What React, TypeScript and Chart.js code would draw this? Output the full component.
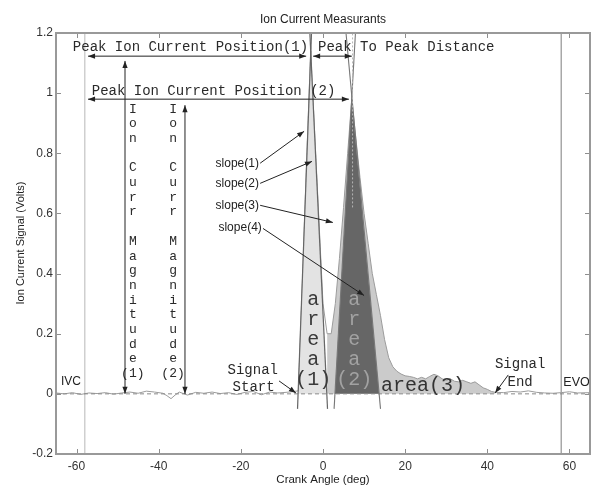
import React, { useEffect, useRef } from "react";
import { Chart, registerables } from "chart.js";
Chart.register(...registerables);

// ---------- data ----------
const xTicks = [-60, -40, -20, 0, 20, 40, 60];
const xTickLabels = ["-60", "-40", "-20", "0", "20", "40", "60"];
const yTicks = [-0.2, 0, 0.2, 0.4, 0.6, 0.8, 1, 1.2];
const yTickLabels = ["-0.2", "0", "0.2", "0.4", "0.6", "0.8", "1", "1.2"];

const signalX = [
  -65, -63, -61, -59, -57, -55, -53, -51, -49, -47, -45, -43, -41, -39, -38, -37, -36, -35, -33, -31,
  -29, -27, -25, -23, -21, -19, -17, -15, -13, -11, -9, -7, -6, -5, -4, -3, -2, -1, 0, 1,
  2, 3, 4, 5, 6, 7, 8, 9, 10, 11, 12, 13, 14, 15, 16, 17, 18, 19, 20, 21,
  22, 23, 24, 25, 26, 27, 28, 29, 30, 31, 32, 33, 34, 35, 36, 37, 38, 39, 40, 41,
  42, 44, 46, 48, 50, 52, 54, 56, 58, 60, 62, 65,
];
const signalY = [
  0.003, 0.0, 0.004, -0.002, 0.003, 0.001, 0.004, -0.001, 0.003, 0.006, 0.002, 0.009, 0.006, 0.002, -0.006, -0.016, -0.004, 0.006, -0.004, 0.005,
  0.002, 0.006, 0.001, 0.004, -0.002, 0.005, 0.008, -0.003, 0.006, 0.003, 0.005, 0.008, 0.01, 0.38, 0.77, 1.14, 0.86, 0.58, 0.3, 0.2,
  0.2, 0.3, 0.45, 0.62, 0.8, 0.98, 0.85, 0.72, 0.6, 0.5, 0.4, 0.33, 0.26, 0.18, 0.12, 0.09, 0.075, 0.066, 0.06, 0.058,
  0.055, 0.05, 0.055, 0.05, 0.058, 0.065, 0.06, 0.05, 0.045, 0.05, 0.042, 0.04, 0.045, 0.04, 0.035, 0.04, 0.03, 0.02, 0.015, 0.008,
  0.005, 0.004, 0.008, 0.006, 0.01, 0.005, 0.003, 0.002, 0.004, 0.007, 0.003, 0.004,
];

const area1X = [-5.97, -3, 0.93];
const area1Y = [0, 1.14, 0];
const area2X = [2.9, 7, 13.66];
const area2Y = [0, 0.98, 0];
const area3Range = [1, 42];

const slope1X = [-6.2, -2.8];
const slope1Y = [-0.05, 1.2];
const slope2X = [1.1, -3.2];
const slope2Y = [-0.05, 1.2];
const slope3X = [2.7, 7.9];
const slope3Y = [-0.05, 1.2];
const slope4X = [14.0, 5.6];
const slope4Y = [-0.05, 1.2];
const peak2GuideX = [7.2, 7.2];
const peak2GuideY = [0.62, 1.2];

const ivcX = -58;
const evoX = 58;

// ---------- annotations (data coordinates) ----------
const MONO = "'Liberation Mono', 'DejaVu Sans Mono', monospace";
const SANS = "'Liberation Sans', Arial, sans-serif";

const texts = [
  { text: "Peak Ion Current Position(1)", x: -60.9, y: 1.153, align: "left", font: `14px ${MONO}`, color: "#2a2a2a" },
  { text: "Peak To Peak Distance", x: -1.2, y: 1.153, align: "left", font: `14px ${MONO}`, color: "#2a2a2a" },
  { text: "Peak Ion Current Position (2)", x: -56.3, y: 1.007, align: "left", font: `14px ${MONO}`, color: "#2a2a2a" },
  { text: "slope(1)", x: -15.6, y: 0.767, align: "right", font: `12px ${SANS}`, color: "#222" },
  { text: "slope(2)", x: -15.6, y: 0.70, align: "right", font: `12px ${SANS}`, color: "#222" },
  { text: "slope(3)", x: -15.6, y: 0.627, align: "right", font: `12px ${SANS}`, color: "#222" },
  { text: "slope(4)", x: -14.9, y: 0.553, align: "right", font: `12px ${SANS}`, color: "#222" },
  { text: "area(3)", x: 14.1, y: 0.027, align: "left", font: `20px ${MONO}`, color: "#333" },
  { text: "Signal", x: -17.1, y: 0.08, align: "center", font: `14px ${MONO}`, color: "#2a2a2a" },
  { text: "Start", x: -16.9, y: 0.023, align: "center", font: `14px ${MONO}`, color: "#2a2a2a" },
  { text: "Signal", x: 48.0, y: 0.097, align: "center", font: `14px ${MONO}`, color: "#2a2a2a" },
  { text: "End", x: 48.0, y: 0.04, align: "center", font: `14px ${MONO}`, color: "#2a2a2a" },
  { text: "IVC", x: -63.8, y: 0.04, align: "left", font: `12px ${SANS}`, color: "#222" },
  { text: "EVO", x: 58.5, y: 0.037, align: "left", font: `12.5px ${SANS}`, color: "#222" },
];

const vtexts = [
  { lines: ["I", "o", "n", "", "C", "u", "r", "r", "", "M", "a", "g", "n", "i", "t", "u", "d", "e", "(1)"], x: -46.3, y: 0.947, step: 14.7, font: `13px ${MONO}`, color: "#2a2a2a" },
  { lines: ["I", "o", "n", "", "C", "u", "r", "r", "", "M", "a", "g", "n", "i", "t", "u", "d", "e", "(2)"], x: -36.5, y: 0.947, step: 14.7, font: `13px ${MONO}`, color: "#2a2a2a" },
  { lines: ["a", "r", "e", "a", "(1)"], x: -2.4, y: 0.313, step: 20, font: `20px ${MONO}`, color: "#3a3a3a" },
  { lines: ["a", "r", "e", "a", "(2)"], x: 7.6, y: 0.313, step: 20, font: `20px ${MONO}`, color: "#a2a2a2" },
];

// [x1, y1, x2, y2, headAtStart, headAtEnd]
const arrows = [
  [-57.2, 1.123, -4.1, 1.123, true, true],
  [-2.4, 1.123, 7.0, 1.123, true, true],
  [-57.2, 0.98, 6.3, 0.98, true, true],
  [-48.2, 0.0, -48.2, 1.107, true, true],
  [-33.6, 0.0, -33.6, 0.96, true, true],
  [-15.3, 0.767, -4.6, 0.873, false, true],
  [-15.3, 0.70, -2.7, 0.773, false, true],
  [-15.3, 0.627, 2.4, 0.57, false, true],
  [-14.6, 0.55, 10.0, 0.327, false, true],
  [-10.7, 0.043, -6.6, 0.003, false, true],
  [45.1, 0.063, 41.9, 0.003, false, true],
];

const pts = (xs: number[], ys: number[]) => xs.map((x, i) => ({ x, y: ys[i] }));

function drawHead(ctx: CanvasRenderingContext2D, fx: number, fy: number, tx: number, ty: number) {
  const ang = Math.atan2(ty - fy, tx - fx);
  const len = 7, half = 2.6;
  ctx.beginPath();
  ctx.moveTo(tx, ty);
  ctx.lineTo(tx - len * Math.cos(ang) + half * Math.sin(ang), ty - len * Math.sin(ang) - half * Math.cos(ang));
  ctx.lineTo(tx - len * Math.cos(ang) - half * Math.sin(ang), ty - len * Math.sin(ang) + half * Math.cos(ang));
  ctx.closePath();
  ctx.fill();
}

const annotPlugin = {
  id: "annot",
  afterDatasetsDraw(chart: any) {
    const ctx: CanvasRenderingContext2D = chart.ctx;
    const xs = chart.scales.x, ys = chart.scales.y;
    const X = (v: number) => xs.getPixelForValue(v);
    const Y = (v: number) => ys.getPixelForValue(v);
    ctx.save();
    ctx.textBaseline = "middle";
    for (const t of texts) {
      ctx.font = t.font;
      ctx.fillStyle = t.color;
      ctx.textAlign = t.align as CanvasTextAlign;
      ctx.fillText(t.text, X(t.x), Y(t.y));
    }
    for (const v of vtexts) {
      ctx.font = v.font;
      ctx.fillStyle = v.color;
      ctx.textAlign = "center";
      v.lines.forEach((l, i) => ctx.fillText(l, X(v.x), Y(v.y) + i * v.step));
    }
    ctx.strokeStyle = "#222";
    ctx.fillStyle = "#222";
    ctx.lineWidth = 1;
    for (const a of arrows) {
      const [x1, y1, x2, y2, hs, he] = a as [number, number, number, number, boolean, boolean];
      const p1x = X(x1), p1y = Y(y1), p2x = X(x2), p2y = Y(y2);
      ctx.beginPath();
      ctx.moveTo(p1x, p1y);
      ctx.lineTo(p2x, p2y);
      ctx.stroke();
      if (he) drawHead(ctx, p1x, p1y, p2x, p2y);
      if (hs) drawHead(ctx, p2x, p2y, p1x, p1y);
    }
    ctx.restore();
  },
  afterDraw(chart: any) {
    const ctx: CanvasRenderingContext2D = chart.ctx;
    const { left, right, top, bottom } = chart.chartArea;
    const xs = chart.scales.x, ys = chart.scales.y;
    ctx.save();
    ctx.strokeStyle = "#8e8e8e";
    ctx.lineWidth = 1;
    ctx.beginPath();
    for (const v of xTicks) {
      const px = Math.round(xs.getPixelForValue(v)) + 0.5;
      ctx.moveTo(px, bottom); ctx.lineTo(px, bottom - 5);
      ctx.moveTo(px, top); ctx.lineTo(px, top + 5);
    }
    for (const v of yTicks) {
      const py = Math.round(ys.getPixelForValue(v)) + 0.5;
      ctx.moveTo(left, py); ctx.lineTo(left + 5, py);
      ctx.moveTo(right, py); ctx.lineTo(right - 5, py);
    }
    ctx.stroke();
    ctx.strokeStyle = "#999";
    ctx.lineWidth = 2;
    ctx.strokeRect(left, top, right - left, bottom - top);

    ctx.fillStyle = "#222";
    ctx.textAlign = "center";
    ctx.textBaseline = "middle";
    ctx.font = `12px ${SANS}`;
    ctx.fillText("Ion Current Measurants", (left + right) / 2, 20);
    ctx.font = `11.5px ${SANS}`;
    ctx.fillText("Crank Angle (deg)", (left + right) / 2, 480);
    ctx.translate(21, 243);
    ctx.rotate(-Math.PI / 2);
    ctx.font = `11px ${SANS}`;
    ctx.fillText("Ion Current Signal (Volts)", 0, 0);
    ctx.restore();
  },
};

export default function App() {
  const ref = useRef<HTMLCanvasElement | null>(null);
  useEffect(() => {
    if (!ref.current) return;
    const area3 = signalX
      .map((x, i) => ({ x, y: signalY[i] }))
      .filter((p) => p.x >= area3Range[0] && p.x <= area3Range[1]);
    const common = { pointRadius: 0, tension: 0, showLine: true };
    const chart = new Chart(ref.current, {
      type: "line",
      data: {
        datasets: [
          { ...common, data: pts(peak2GuideX, peak2GuideY), borderColor: "#b5b5b5", borderWidth: 1, borderDash: [2, 2], fill: false, order: 1 },
          { ...common, data: pts(slope1X, slope1Y), borderColor: "#666", borderWidth: 1.2, fill: false, order: 2 },
          { ...common, data: pts(slope2X, slope2Y), borderColor: "#666", borderWidth: 1.2, fill: false, order: 2 },
          { ...common, data: pts(slope3X, slope3Y), borderColor: "#777", borderWidth: 1.1, fill: false, order: 2 },
          { ...common, data: pts(slope4X, slope4Y), borderColor: "#777", borderWidth: 1.1, fill: false, order: 2 },
          { ...common, data: pts([-65, 65], [0, 0]), borderColor: "#8a8a8a", borderWidth: 1, borderDash: [4, 3], fill: false, order: 3 },
          { ...common, data: pts(area2X, area2Y), borderWidth: 0, backgroundColor: "#666666", borderColor: "#666666", fill: "origin", order: 4 },
          { ...common, data: pts(area1X, area1Y), borderWidth: 0, backgroundColor: "#e3e3e3", borderColor: "#e3e3e3", fill: "origin", order: 5 },
          { ...common, data: pts(signalX, signalY), borderColor: "#9c9c9c", borderWidth: 1, fill: false, order: 6 },
          { ...common, data: area3, borderWidth: 0, backgroundColor: "#cbcbcb", borderColor: "#cbcbcb", fill: "origin", order: 7 },
          { ...common, data: pts([ivcX, ivcX], [-0.2, 1.2]), borderColor: "#cfcfcf", borderWidth: 1.5, fill: false, order: 8 },
          { ...common, data: pts([evoX, evoX], [-0.2, 1.2]), borderColor: "#a8a8a8", borderWidth: 1.5, fill: false, order: 8 },
        ],
      },
      options: {
        animation: false,
        responsive: false,
        devicePixelRatio: 1,
        parsing: false,
        normalized: true,
        layout: { padding: { top: 33, right: 1, left: 0, bottom: 0 } },
        plugins: { legend: { display: false }, tooltip: { enabled: false }, title: { display: false } },
        scales: {
          x: {
            type: "linear",
            min: -65,
            max: 65,
            afterFit: (s: any) => { s.height = 33; },
            afterBuildTicks: (s: any) => { s.ticks = xTicks.map((v) => ({ value: v })); },
            grid: { display: false, drawTicks: false },
            border: { display: false },
            ticks: {
              padding: 5,
              color: "#333",
              font: { family: "'Liberation Sans', Arial, sans-serif", size: 12 },
              maxRotation: 0,
              callback: (v: any) => { const i = xTicks.indexOf(Number(v)); return i >= 0 ? xTickLabels[i] : ""; },
            },
          },
          y: {
            type: "linear",
            min: -0.2,
            max: 1.2,
            afterFit: (s: any) => { s.width = 56; },
            afterBuildTicks: (s: any) => { s.ticks = yTicks.map((v) => ({ value: v })); },
            grid: { display: false, drawTicks: false },
            border: { display: false },
            ticks: {
              padding: 3,
              color: "#333",
              font: { family: "'Liberation Sans', Arial, sans-serif", size: 12 },
              callback: (v: any) => {
                const i = yTicks.findIndex((t) => Math.abs(t - Number(v)) < 1e-9);
                return i >= 0 ? yTickLabels[i] : "";
              },
            },
          },
        },
      },
      plugins: [annotPlugin],
    } as any);
    return () => chart.destroy();
  }, []);
  return (
    <div style={{ position: "fixed", left: 0, top: 0, width: 591, height: 487, background: "#fff" }}>
      <canvas ref={ref} width={591} height={487} style={{ display: "block" }} />
    </div>
  );
}
